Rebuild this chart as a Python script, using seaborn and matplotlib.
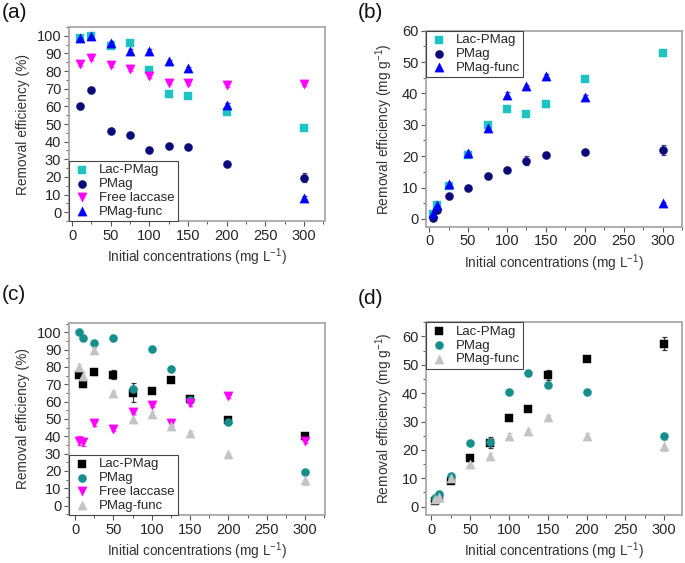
import matplotlib
matplotlib.use("Agg")
import matplotlib.pyplot as plt
from matplotlib.ticker import MultipleLocator
import numpy as np
import pandas as pd
import seaborn as sns

# ---- data ----
conc_a = [10, 25, 50, 75, 100, 125, 150, 200, 300]
conc = [5, 10, 25, 50, 75, 100, 125, 150, 200, 300]

# (a) removal efficiency (%)
a_lac = [99, 100, 94, 96, 80.5, 67, 66, 57, 48]
a_lac_err = [1.5, 1, 1, 1, 2, 1.5, 1, 1, 1]
a_pmag = [60, 69.5, 46, 43.5, 35.5, 37.5, 37, 27.5, 19.5]
a_pmag_err = [1.5, 1, 1, 1, 1, 1, 1, 1, 2.5]
a_free = [84, 87.5, 83.5, 81, 77.5, 73.5, 73, 72, 72.5]
a_free_err = [1, 1, 1, 1, 1.5, 1, 1, 1, 1]
a_func = [98.5, 100, 96, 91.5, 91.5, 85.5, 81.5, 61, 8]
a_func_err = [1, 1, 1, 1, 1, 1, 1, 1, 1]

# (b) uptake (mg g-1)
b_lac = [1.5, 4.5, 10.5, 20.5, 30, 35, 33.5, 36.5, 44.5, 52.8]
b_lac_err = [0.5, 0.5, 0.5, 0.5, 0.8, 0.8, 0.8, 0.8, 0.5, 1.0]
b_pmag = [0.4, 2.7, 7.4, 10, 13.7, 15.5, 18.6, 20.3, 21.4, 22]
b_pmag_err = [0.5, 0.5, 0.5, 0.5, 0.5, 0.5, 1.5, 0.5, 0.5, 1.5]
b_func = [2, 4.5, 11, 21, 29, 39.6, 42.3, 45.6, 38.7, 5]
b_func_err = [0.5, 0.5, 0.5, 0.5, 0.8, 0.8, 0.5, 0.5, 0.8, 0.5]

# (c) removal efficiency (%)
c_lac = [75.5, 70, 77, 75.5, 65, 66, 72.5, 61.5, 49.5, 40]
c_lac_err = [1.5, 1.5, 1.5, 2.5, 5.5, 1, 1, 1.5, 1, 1.5]
c_pmag = [100, 96.5, 94, 96.5, 67, 90.5, 79, 61, 48, 19.5]
c_pmag_err = [1, 1, 1, 1, 1, 1, 1, 1, 1, 1]
c_free = [37.5, 36.5, 47.5, 44, 54, 58, 47.5, 59, 63, 37.5]
c_free_err = [2.5, 2, 1.5, 1, 1, 1, 1.5, 1.5, 1, 1.5]
c_func = [80, 75, 89.5, 65, 50, 53, 46, 42, 29.5, 15]
c_func_err = [1.5, 2, 1.5, 1, 2, 1.5, 1.5, 1, 1, 3]

# (d) uptake (mg g-1)
d_lac = [2, 3, 9, 17.3, 22.5, 31.3, 34.3, 46.3, 52, 57.5]
d_lac_err = [0.5, 0.5, 0.5, 0.5, 2, 0.5, 0.5, 1.8, 0.5, 2.3]
d_pmag = [3, 4.5, 10.8, 22.3, 22.8, 40.5, 47, 42.8, 40.3, 25]
d_pmag_err = [0.5, 0.5, 0.5, 0.5, 0.5, 0.5, 0.5, 0.5, 0.5, 0.5]
d_func = [2.5, 3.5, 10, 15, 18, 25, 26.5, 31.5, 25, 21.5]
d_func_err = [0.5, 0.5, 0.5, 0.8, 0.8, 0.8, 1, 0.8, 0.8, 2]

CYAN = "#1EC3C3"
NAVY = "#0A0A78"
MAGENTA = "#FF00FF"
BLUE = "#0000FF"
BLACK = "#000000"
TEAL = "#168E8E"
GRAY = "#C4C4C4"

sns.set_style("white")
plt.rcParams["font.family"] = ["Liberation Sans", "DejaVu Sans"]
plt.rcParams["font.size"] = 10
plt.rcParams["mathtext.fontset"] = "custom"
plt.rcParams["mathtext.rm"] = "Liberation Sans"

X_LABEL = "Initial concentrations (mg L$^{\\mathregular{-1}}$)"


def draw_series(ax, x, y, err, label, marker, color, size=34):
    ax.errorbar(x, y, yerr=err, fmt="none", ecolor=color, elinewidth=0.9,
                capsize=1.8, capthick=0.9, alpha=0.75, zorder=2)
    df = pd.DataFrame({"x": x, "y": y})
    sns.scatterplot(data=df, x="x", y="y", marker=marker, color=color,
                    edgecolor=color, linewidth=0.3, s=size, label=label,
                    ax=ax, zorder=3)


def style_axes(ax, ylabel, xlim, ylim, ymajor, yminor):
    ax.set_xlim(*xlim)
    ax.set_ylim(*ylim)
    ax.xaxis.set_major_locator(MultipleLocator(50))
    ax.xaxis.set_minor_locator(MultipleLocator(25))
    ax.yaxis.set_major_locator(MultipleLocator(ymajor))
    ax.yaxis.set_minor_locator(MultipleLocator(yminor))
    ax.tick_params(which="major", direction="out", length=3.5, width=0.8,
                   color="#555555", labelsize=10.5, bottom=True, left=True,
                   top=False, right=False, pad=2)
    ax.tick_params(which="minor", direction="out", length=2, width=0.7,
                   color="#555555", bottom=True, left=True, top=False, right=False)
    for sp in ax.spines.values():
        sp.set_color("#A8A8A8")
        sp.set_linewidth(1.3)
    ax.set_xlabel(X_LABEL, fontsize=9.8, color="#333333", labelpad=3)
    ax.set_ylabel(ylabel, fontsize=9.9, color="#333333", labelpad=5)


def style_legend(ax, loc):
    leg = ax.legend(loc=loc, fontsize=9.5, frameon=True, fancybox=False,
                    framealpha=1, borderpad=0.25, handletextpad=0.5,
                    labelspacing=0.12, handlelength=1.5, borderaxespad=0.0)
    leg.get_frame().set_edgecolor("#444444")
    leg.get_frame().set_linewidth(0.8)


fig = plt.figure(figsize=(6.85, 5.63), dpi=100)
ax_a = fig.add_axes([0.1007, 0.6075, 0.3738, 0.3445])
ax_b = fig.add_axes([0.622, 0.5973, 0.3736, 0.3482])
ax_c = fig.add_axes([0.1007, 0.0852, 0.3738, 0.3416])
ax_d = fig.add_axes([0.622, 0.0852, 0.3736, 0.3423])

# ---- Panel (a) ----
draw_series(ax_a, conc_a, a_lac, a_lac_err, "Lac-PMag", "s", CYAN)
draw_series(ax_a, conc_a, a_pmag, a_pmag_err, "PMag", "o", NAVY)
draw_series(ax_a, conc_a, a_free, a_free_err, "Free laccase", "v", MAGENTA, 44)
draw_series(ax_a, conc_a, a_func, a_func_err, "PMag-func", "^", BLUE, 44)
style_axes(ax_a, "Removal efficiency (%)", (-4, 327), (-5, 105), 10, 5)
style_legend(ax_a, "lower left")

# ---- Panel (b) ----
draw_series(ax_b, conc, b_lac, b_lac_err, "Lac-PMag", "s", CYAN)
draw_series(ax_b, conc, b_pmag, b_pmag_err, "PMag", "o", NAVY)
draw_series(ax_b, conc, b_func, b_func_err, "PMag-func", "^", BLUE, 44)
style_axes(ax_b, "Removal efficiency (mg g$^{\\mathregular{-1}}$)", (-4, 325),
           (-2.5, 60), 10, 5)
style_legend(ax_b, "upper left")

# ---- Panel (c) ----
draw_series(ax_c, conc, c_lac, c_lac_err, "Lac-PMag", "s", BLACK)
draw_series(ax_c, conc, c_pmag, c_pmag_err, "PMag", "o", TEAL)
draw_series(ax_c, conc, c_free, c_free_err, "Free laccase", "v", MAGENTA, 44)
draw_series(ax_c, conc, c_func, c_func_err, "PMag-func", "^", GRAY, 44)
style_axes(ax_c, "Removal efficiency (%)", (-8, 326), (-5.5, 105.5), 10, 5)
style_legend(ax_c, "lower left")

# ---- Panel (d) ----
draw_series(ax_d, conc, d_lac, d_lac_err, "Lac-PMag", "s", BLACK)
draw_series(ax_d, conc, d_pmag, d_pmag_err, "PMag", "o", TEAL)
draw_series(ax_d, conc, d_func, d_func_err, "PMag-func", "^", GRAY, 44)
style_axes(ax_d, "Removal efficiency (mg g$^{\\mathregular{-1}}$)", (-7, 323),
           (-3, 65), 10, 5)
style_legend(ax_d, "upper left")

# panel letters
for txt, x, y in [("(a)", 0.002, 0.978), ("(b)", 0.522, 0.978),
                  ("(c)", 0.002, 0.477), ("(d)", 0.522, 0.470)]:
    fig.text(x, y, txt, fontsize=15, ha="left", va="center", color="#111111")

fig.savefig("out.png", dpi=100, facecolor="white")
